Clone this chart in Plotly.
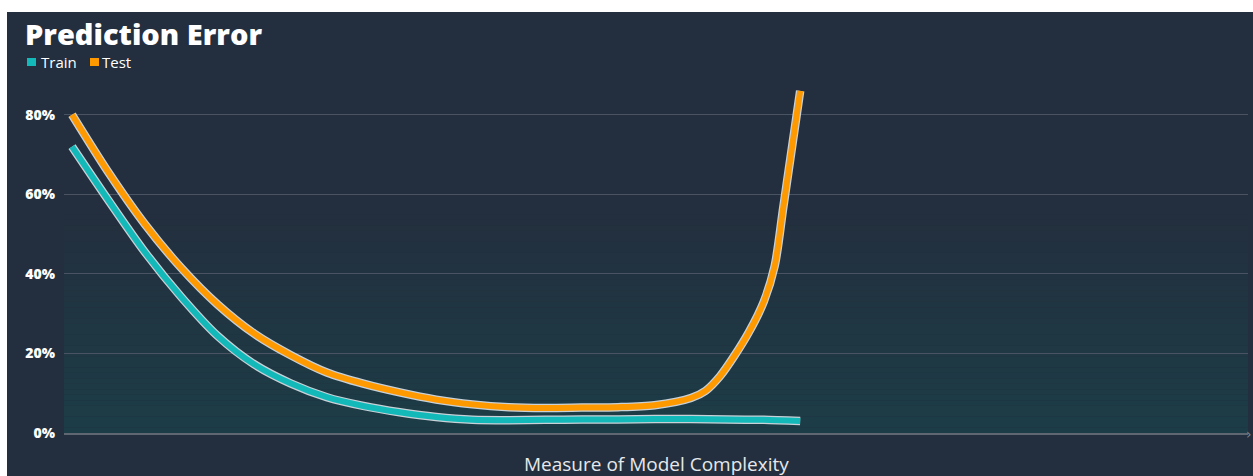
import plotly.graph_objects as go

# Model complexity (arbitrary units) and prediction error (%)
train_complexity = [0, 5, 10, 15, 20, 25, 30, 35, 40, 45, 50, 55, 60, 65, 70, 75, 80, 85, 90, 95, 100]
train_error = [72, 58.5, 45.5, 34.2, 24.4, 17.3, 12.5, 9.0, 6.8, 5.2, 4.0, 3.3, 3.2, 3.3, 3.4, 3.4, 3.5, 3.5, 3.4, 3.3, 3.0]

test_complexity = [0, 5, 10, 15, 20, 25, 30, 35, 40, 45, 50, 55, 60, 65, 70, 75, 80, 85, 87, 89, 91, 93,
                   95, 96.5, 97.7, 100]
test_error = [80, 65.5, 52.5, 41.5, 32.3, 25.0, 19.6, 15.2, 12.4, 10.2, 8.4, 7.2, 6.5, 6.3, 6.4, 6.5, 7.0, 8.8,
              10.6, 14.3, 19.5, 25.5, 33, 42, 57, 86]

y_ticks = [0, 20, 40, 60, 80]
y_tick_labels = ["0%", "20%", "40%", "60%", "80%"]

TEAL = "#13B9B9"
ORANGE = "#FF9900"
OUTLINE = "#C9D1D8"
INK = "#232F3E"

W, H = 1253, 476
L, R, T, B = 64, 5, 75, 43
PW, PH = W - L - R, H - T - B


def px_x(p):
    return (p - L) / PW


def px_y(p):
    return (H - B - p) / PH


fig = go.Figure()

for xs, ys, color in [(train_complexity, train_error, TEAL), (test_complexity, test_error, ORANGE)]:
    fig.add_trace(go.Scatter(x=xs, y=ys, mode="lines", showlegend=False, hoverinfo="skip",
                             line=dict(color=OUTLINE, width=8.5, shape="spline", smoothing=0.8)))
    fig.add_trace(go.Scatter(x=xs, y=ys, mode="lines", showlegend=False,
                             line=dict(color=color, width=6, shape="spline", smoothing=0.8)))

shapes = []
# soft teal glow rising from the baseline
bottom = (0x1C, 0x3D, 0x47)
top = (0x23, 0x2F, 0x3E)
n = 40
for i in range(n):
    t = i / (n - 1)
    c = tuple(round(bottom[k] + (top[k] - bottom[k]) * t) for k in range(3))
    shapes.append(dict(type="rect", xref="paper", yref="y", x0=0, x1=1,
                       y0=i * 55 / n, y1=(i + 1) * 55 / n, layer="below",
                       line=dict(width=0), fillcolor="rgb(%d,%d,%d)" % c))

# white page margins around the dark panel
shapes.append(dict(type="rect", xref="paper", yref="paper", x0=px_x(0), x1=px_x(W),
                   y0=px_y(12), y1=px_y(0), line=dict(width=0), fillcolor="white", layer="above"))
shapes.append(dict(type="rect", xref="paper", yref="paper", x0=px_x(0), x1=px_x(7),
                   y0=px_y(H), y1=px_y(0), line=dict(width=0), fillcolor="white", layer="above"))

# legend swatches
for x0, color in [(27, TEAL), (90, ORANGE)]:
    shapes.append(dict(type="rect", xref="paper", yref="paper", x0=px_x(x0), x1=px_x(x0 + 9),
                       y0=px_y(66), y1=px_y(58), line=dict(width=0), fillcolor=color))

annotations = [
    dict(text="Train", xref="paper", yref="paper", x=px_x(39), y=px_y(62), xanchor="left",
         yanchor="middle", showarrow=False, font=dict(family="Open Sans", size=15, color="white")),
    dict(text="Test", xref="paper", yref="paper", x=px_x(100), y=px_y(62), xanchor="left",
         yanchor="middle", showarrow=False, font=dict(family="Open Sans", size=15, color="white")),
    dict(text="›", xref="paper", yref="paper", x=px_x(1249), y=px_y(434), xanchor="center",
         yanchor="middle", showarrow=False, font=dict(family="DejaVu Sans", size=14, color="#7C8590")),
    dict(text="Measure of Model Complexity", xref="paper", yref="paper", x=0.5, y=px_y(464),
         xanchor="center", yanchor="middle", showarrow=False,
         font=dict(family="Open Sans", size=19, color="#E6E8EA")),
]

fig.update_layout(
    width=W, height=H,
    margin=dict(l=L, r=R, t=T, b=B, autoexpand=False),
    paper_bgcolor=INK, plot_bgcolor=INK,
    title=dict(text="Prediction Error", x=25 / W, xanchor="left", y=1 - 35 / H, yanchor="middle",
               font=dict(family="Open Sans", size=29, weight=800, color="white")),
    shapes=shapes, annotations=annotations,
    xaxis=dict(range=[-1.1, 161.5], showgrid=False, zeroline=False, showticklabels=False,
               showline=True, linecolor="#5E6772", linewidth=2, ticks=""),
    yaxis=dict(range=[0, 90], tickvals=y_ticks, ticktext=y_tick_labels, showgrid=True,
               gridcolor="#4A5361", gridwidth=1, zeroline=False, showline=False, ticks="",
               ticklabelstandoff=8,
               tickfont=dict(family="Open Sans", size=14, weight=800, color="white")),
    showlegend=False,
)

fig.write_html("out.html")
